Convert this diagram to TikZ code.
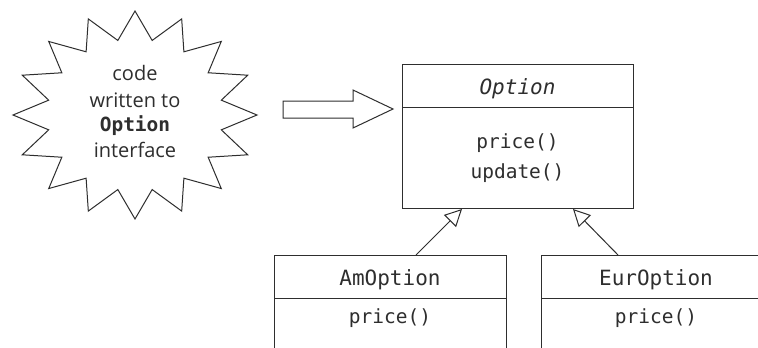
\documentclass[tikz,border=0pt]{standalone}
\usepackage{fontspec}
\setmainfont{Open Sans}
\setmonofont{DejaVu Sans Mono}
\usetikzlibrary{arrows.meta,calc}
\definecolor{ink}{HTML}{2E2E2E}
\begin{document}
\begin{tikzpicture}[x=1pt,y=-1pt,
  line width=1pt, draw=ink, text=ink,
  cell/.style={draw=ink, line width=1pt, anchor=north west, inner sep=0pt},
  clsname/.style={font=\fontsize{21}{24}\selectfont\ttfamily, anchor=base, inner sep=0pt},
  meth/.style={font=\fontsize{19.5}{22}\selectfont\ttfamily, anchor=base, inner sep=0pt},
  burstline/.style={font=\fontsize{20}{22}\selectfont, anchor=base, inner sep=0pt},
  inherit/.style={draw=ink, line width=1pt, -{Triangle[open,length=17pt,width=17pt,line width=1pt]}}
]
\useasboundingbox (0,0) rectangle (758,348);
\clip (0,0) rectangle (758,348);
\fill[white] (0,0) rectangle (758,348);

% starburst
\coordinate (bc) at (135,115);
\draw[line join=miter] ($(bc)+(90:122 and 104)$)
  \foreach \k in {0,...,15} {
    -- ($(bc)+({90+\k*22.5+11.25}:88 and 76)$)
    -- ($(bc)+({90+(\k+1)*22.5}:122 and 104)$)
  } -- cycle;
\node[burstline] (b1) at (135,80) {code};
\node[burstline] (b2) at (135,107) {written to};
\node[burstline, font=\fontsize{19.5}{22}\selectfont\ttfamily\bfseries] (b3) at (135,131) {Option};
\node[burstline] (b4) at (135,157) {interface};

% block arrow
\draw[line join=miter] (283,101) -- (353,101) -- (353,90) -- (393,109) -- (353,128) -- (353,118) -- (283,118) -- cycle;

% Option class
\node[cell, minimum width=231pt, minimum height=43pt] (opthead) at (402,64) {};
\node[cell, minimum width=231pt, minimum height=101pt] (optbody) at (402,107) {};
\node[clsname, font=\fontsize{21}{24}\selectfont\ttfamily\itshape] (optname) at (517.5,94) {Option};
\node[meth] (optm1) at (517.5,148) {price()};
\node[meth] (optm2) at (517.5,178) {update()};

% AmOption class
\node[cell, minimum width=232pt, minimum height=43pt] (amhead) at (274,255) {};
\node[cell, minimum width=232pt, minimum height=70pt] (ambody) at (274,298) {};
\node[clsname] (amname) at (390,285) {AmOption};
\node[meth] (amm1) at (390,323) {price()};

% EurOption class
\node[cell, minimum width=230pt, minimum height=43pt] (eurhead) at (541,255) {};
\node[cell, minimum width=230pt, minimum height=70pt] (eurbody) at (541,298) {};
\node[clsname] (eurname) at (656,285) {EurOption};
\node[meth] (eurm1) at (656,323) {price()};

% inheritance
\draw[inherit] ($(amhead.north west)+(142,0)$) -- ($(optbody.south west)+(60,0)$);
\draw[inherit] ($(eurhead.north west)+(77,0)$) -- ($(optbody.south west)+(171,0)$);
\end{tikzpicture}
\end{document}
